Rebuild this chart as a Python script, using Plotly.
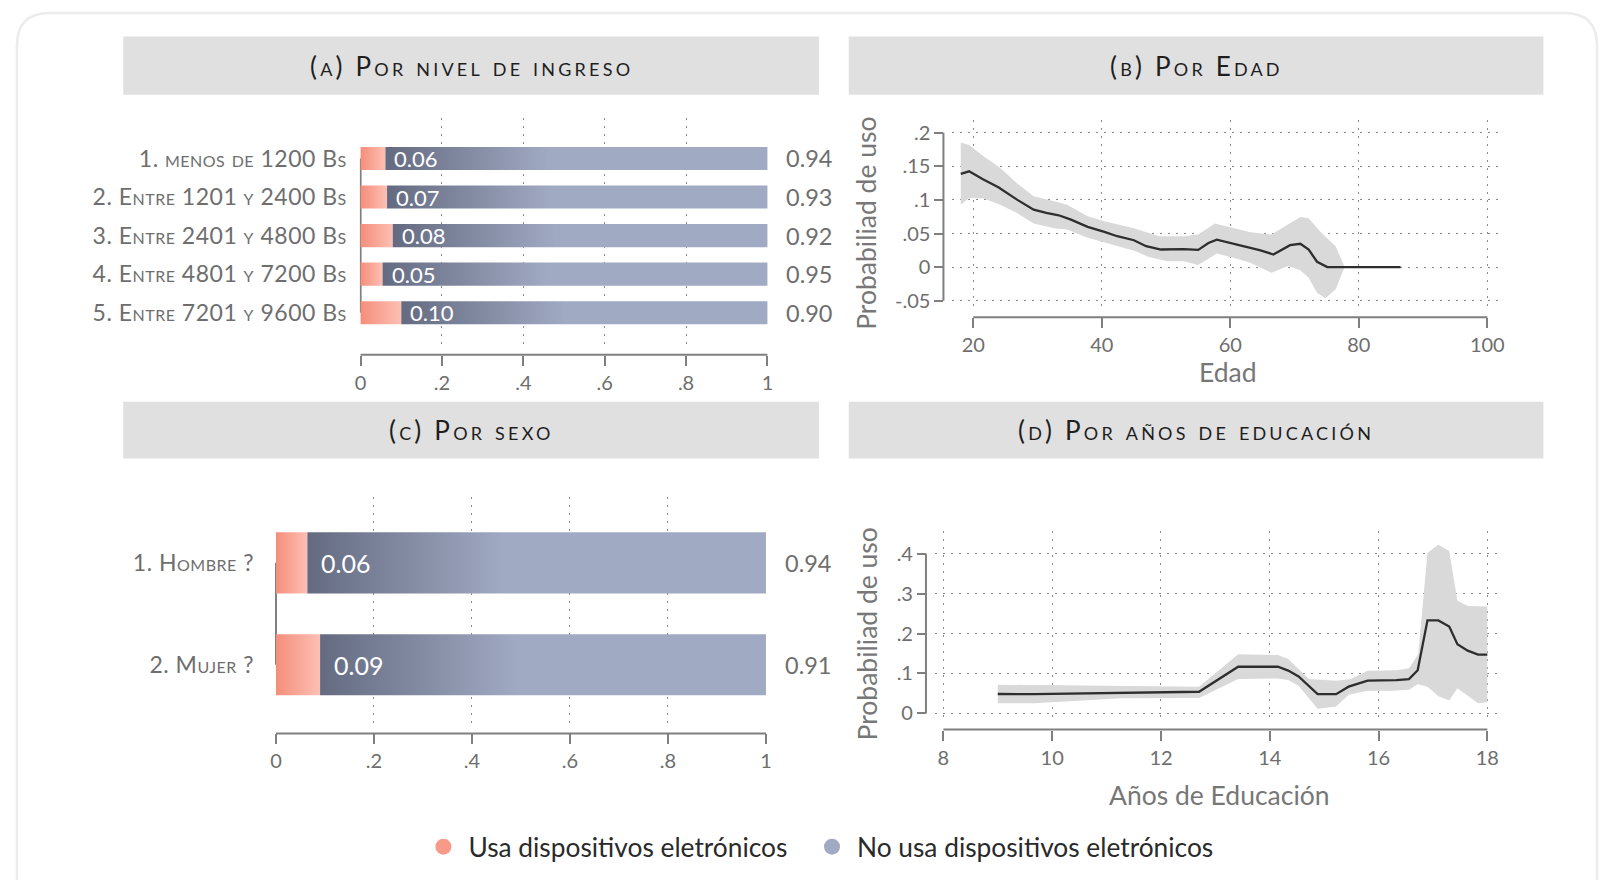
import plotly.graph_objects as go

# (A) por nivel de ingreso
ingreso_cats = ["1. menos de 1200 Bs", "2. Entre 1201 y 2400 Bs", "3. Entre 2401 y 4800 Bs",
                "4. Entre 4801 y 7200 Bs", "5. Entre 7201 y 9600 Bs"]
ingreso_usa = [0.061, 0.065, 0.079, 0.054, 0.100]
ingreso_no = [0.94, 0.93, 0.92, 0.95, 0.90]

# (C) por sexo
sexo_cats = ["1. Hombre ?", "2. Mujer ?"]
sexo_usa = [0.064, 0.090]
sexo_no = [0.94, 0.91]

# (B) por edad: probabilidad estimada e intervalo
edad_x = [18.05, 19.35, 21.5, 23.9, 26.8, 29.4, 31.35, 33.3, 35.2, 37.8, 40.4, 42.4, 45.0, 46.9,
          49.2, 52.75, 55.0, 56.6, 57.9, 60.5, 62.5, 64.7, 66.7, 69.3, 70.9, 72.2, 73.5, 75.1, 86.5]
edad_y = [0.139, 0.1426, 0.131, 0.119, 0.1005, 0.0856, 0.0807, 0.0772, 0.0708, 0.060, 0.0525, 0.046,
          0.040, 0.0312, 0.0262, 0.0267, 0.0257, 0.036, 0.041, 0.035, 0.0297, 0.025, 0.0188, 0.0327,
          0.0347, 0.026, 0.008, 0.0, 0.0]
edad_hi_x = [18.05, 19.35, 21.6, 24.2, 26.8, 29.4, 32.6, 34.6, 37.8, 40.4, 45.0, 48.9, 52.75, 55.0,
             57.6, 60.5, 63.1, 66.4, 70.9, 72.2, 74.1, 76.4, 77.8]
edad_hi_y = [0.1856, 0.182, 0.165, 0.1475, 0.125, 0.1054, 0.098, 0.093, 0.0757, 0.0683, 0.058, 0.046,
             0.046, 0.0485, 0.0648, 0.058, 0.052, 0.0485, 0.0747, 0.0728, 0.052, 0.031, 0.0]
edad_lo_x = [18.05, 19.35, 21.6, 24.2, 26.8, 29.4, 32.6, 34.6, 37.8, 40.4, 43.0, 45.3, 47.2, 50.2,
             52.75, 55.0, 57.9, 60.5, 63.1, 66.4, 69.0, 70.9, 72.2, 73.5, 74.8, 76.4, 77.8]
edad_lo_y = [0.093, 0.103, 0.102, 0.093, 0.0807, 0.065, 0.058, 0.056, 0.0436, 0.036, 0.0297, 0.0238,
             0.0153, 0.0089, 0.0089, 0.003, 0.0203, 0.0139, 0.0064, -0.0084, 0.0015, -0.0045, -0.0158,
             -0.038, -0.0465, -0.033, 0.0]

# (D) por años de educación
edu_x = [9.0, 9.67, 12.7, 13.42, 14.15, 14.34, 14.53, 14.88, 15.22, 15.45, 15.8, 16.33, 16.56, 16.72,
         16.9, 17.1, 17.3, 17.45, 17.64, 17.83, 18.0]
edu_y = [0.0483, 0.048, 0.054, 0.1167, 0.1167, 0.107, 0.0925, 0.048, 0.048, 0.0667, 0.0817, 0.083,
         0.0858, 0.108, 0.233, 0.233, 0.2175, 0.1733, 0.157, 0.147, 0.147]
edu_hi_x = [9.0, 12.7, 13.42, 14.15, 14.34, 14.72, 15.22, 15.49, 15.8, 16.33, 16.56, 16.73, 16.9, 17.1,
            17.3, 17.45, 17.64, 18.0]
edu_hi_y = [0.0717, 0.0667, 0.148, 0.146, 0.136, 0.0858, 0.0817, 0.0858, 0.1067, 0.108, 0.113, 0.148,
            0.4025, 0.423, 0.407, 0.282, 0.269, 0.2675]
edu_lo_x = [9.0, 9.67, 11.28, 12.7, 13.42, 14.15, 14.34, 14.53, 14.88, 15.22, 15.45, 15.8, 16.26, 16.56,
            16.72, 16.9, 17.1, 17.3, 17.45, 17.83, 18.0]
edu_lo_y = [0.025, 0.025, 0.0375, 0.0383, 0.0858, 0.0875, 0.0833, 0.069, 0.011, 0.0167, 0.0467, 0.0567,
            0.0567, 0.059, 0.073, 0.0667, 0.0425, 0.0317, 0.063, 0.025, 0.0275]

prop_ticks = [0, 0.2, 0.4, 0.6, 0.8, 1]
prop_text = ["0", ".2", ".4", ".6", ".8", "1"]
edad_ticks = [20, 40, 60, 80, 100]
edadp_ticks = [-0.05, 0, 0.05, 0.1, 0.15, 0.2]
edadp_text = ["-.05", "0", ".05", ".1", ".15", ".2"]
edu_ticks = [8, 10, 12, 14, 16, 18]
edup_ticks = [0, 0.1, 0.2, 0.3, 0.4]
edup_text = ["0", ".1", ".2", ".3", ".4"]

titles = ["(a) Por nivel de ingreso", "(b) Por Edad", "(c) Por sexo", "(d) Por años de educación"]
legend_names = ["Usa dispositivos eletrónicos", "No usa dispositivos eletrónicos"]

FONT = "Lato"
PINK = ["#F58E7B", "#FDC0B4"]
BLUE = ["#646B81", "#A1AAC3"]
GRIS = "#7F7F7F"
TXT = "#6E6E6E"
W, H = 1613, 880

fig = go.Figure()


def px(x):
    return x / W


def py(y):
    return 1 - y / H


def spaced(t, sp):
    return f'<span style="letter-spacing:{sp}px">{t}</span>'


def add_bars(cats, usa, no, xa, ya, size, shift):
    half = 0.3
    for i, u in enumerate(usa):
        c = i + 1
        ys = [c - half, c - half, c + half, c + half, c - half]
        fig.add_trace(go.Scatter(
            x=[0, u, u, 0, 0], y=ys, xaxis=xa, yaxis=ya, mode="lines",
            line=dict(width=0, color="rgba(0,0,0,0)"), fill="toself",
            fillgradient=dict(type="horizontal", colorscale=[[0, PINK[0]], [1, PINK[1]]], start=0, stop=u),
            showlegend=False, hoverinfo="skip"))
        fig.add_trace(go.Scatter(
            x=[u, 1, 1, u, u], y=ys, xaxis=xa, yaxis=ya, mode="lines",
            line=dict(width=0, color="rgba(0,0,0,0)"), fill="toself",
            fillgradient=dict(type="horizontal", colorscale=[[0, BLUE[0]], [1, BLUE[1]]], start=u, stop=u + 0.4),
            showlegend=False, hoverinfo="skip"))
        fig.add_annotation(x=u, y=c, xref=xa, yref=ya, text=f"{u:.2f}", showarrow=False,
                           xanchor="left", yanchor="middle", xshift=shift,
                           font=dict(family=FONT, size=size, color="white"))
        fig.add_annotation(x=1, y=c, xref=xa, yref=ya, text=f"{no[i]:.2f}", showarrow=False,
                           xanchor="left", yanchor="middle", xshift=17,
                           font=dict(family=FONT, size=23.5, color=TXT))
    # eje vertical entre la primera y la última categoría
    fig.add_shape(type="line", xref=xa, yref=ya, x0=0, x1=0, y0=1, y1=len(usa),
                  line=dict(color=GRIS, width=2), layer="below")


def add_curve(xs, ys, hx, hy, lx, ly, xa, ya):
    fig.add_trace(go.Scatter(
        x=hx + lx[::-1], y=hy + ly[::-1], xaxis=xa, yaxis=ya, mode="lines", fill="toself",
        fillcolor="#D9D9D9", line=dict(width=0, color="rgba(0,0,0,0)"), showlegend=False, hoverinfo="skip"))
    fig.add_trace(go.Scatter(x=xs, y=ys, xaxis=xa, yaxis=ya, mode="lines",
                             line=dict(color="#2E2E2E", width=2.3), showlegend=False))


add_bars(ingreso_cats, ingreso_usa, ingreso_no, "x", "y", 22, 7)
add_curve(edad_x, edad_y, edad_hi_x, edad_hi_y, edad_lo_x, edad_lo_y, "x2", "y2")
add_bars(sexo_cats, sexo_usa, sexo_no, "x3", "y3", 25, 12)
add_curve(edu_x, edu_y, edu_hi_x, edu_hi_y, edu_lo_x, edu_lo_y, "x4", "y4")

legend_colors = ["#F89A89", "#A1AAC3"]
for name, col, lg in zip(legend_names, legend_colors, ["legend", "legend2"]):
    fig.add_trace(go.Scatter(x=[None], y=[None], mode="markers", name=name, legend=lg,
                             marker=dict(size=16, color=col, symbol="circle")))

tickfont = dict(family=FONT, size=20, color=TXT)
grid = dict(showgrid=True, gridcolor="#8A8A8A", gridwidth=1.3, griddash="2px,6px", zeroline=False,
            showline=False)
xtick = dict(ticks="outside", ticklen=10, tickwidth=2, tickcolor=GRIS, tickfont=tickfont)
ytick = dict(ticks="outside", ticklen=9, tickwidth=2, tickcolor=GRIS, tickfont=tickfont)
catfont = dict(family=FONT, size=23, color=TXT, variant="small-caps")
legfont = dict(family=FONT, size=26.3, color="#2A2A2A")

# posiciones de las cuatro gráficas (en píxeles del lienzo)
xA, yA, posA = [357, 768], [118.4, 348.6], 356
xB, yB, posBx, posBy = [953, 1504.5], [120, 310], 318.3, 944.3
xC, yC, posC = [271.7, 766.7], [498.3, 728.3], 736
xD, yD, posDx, posDy = [935.5, 1503.6], [533.3, 723.3], 732, 926.7

fig.update_layout(
    width=W, height=H, margin=dict(l=0, r=0, t=0, b=0),
    paper_bgcolor="white", plot_bgcolor="white",
    font=dict(family=FONT, color=TXT),
    xaxis=dict(domain=[px(xA[0]), px(xA[1])], range=[-0.002, 1.002], anchor="free", position=py(posA),
               tickvals=prop_ticks, ticktext=prop_text, **grid, **xtick),
    yaxis=dict(domain=[py(yA[1]), py(yA[0])], range=[5.9, -0.05], anchor="x",
               tickvals=list(range(1, len(ingreso_cats) + 1)),
               ticktext=[spaced(c, 0.5) for c in ingreso_cats],
               showgrid=False, zeroline=False, showline=False, ticks="", tickfont=catfont,
               ticklabelstandoff=12),
    xaxis2=dict(domain=[px(xB[0]), px(xB[1])], range=[16.7, 102], anchor="free", position=py(posBx),
                tickvals=edad_ticks, **grid, **xtick),
    yaxis2=dict(domain=[py(yB[1]), py(yB[0])], range=[-0.0623, 0.2197], anchor="free", position=px(posBy),
                tickvals=edadp_ticks, ticktext=edadp_text, **grid, **ytick),
    xaxis3=dict(domain=[px(xC[0]), px(xC[1])], range=[-0.002, 1.002], anchor="free", position=py(posC),
                tickvals=prop_ticks, ticktext=prop_text, **grid, **xtick),
    yaxis3=dict(domain=[py(yC[1]), py(yC[0])], range=[2.6, 0.35], anchor="x3",
                tickvals=list(range(1, len(sexo_cats) + 1)),
                ticktext=[spaced(c, 0.5) for c in sexo_cats],
                showgrid=False, zeroline=False, showline=False, ticks="", tickfont=catfont,
                ticklabelstandoff=20),
    xaxis4=dict(domain=[px(xD[0]), px(xD[1])], range=[7.84, 18.22], anchor="free", position=py(posDx),
                tickvals=edu_ticks, **grid, **xtick),
    yaxis4=dict(domain=[py(yD[1]), py(yD[0])], range=[-0.019, 0.456], anchor="free", position=px(posDy),
                tickvals=edup_ticks, ticktext=edup_text, **grid, **ytick),
    legend=dict(orientation="h", x=px(416), xanchor="left", y=py(850), yanchor="middle",
                font=legfont, itemwidth=40, bgcolor="rgba(0,0,0,0)"),
    legend2=dict(orientation="h", x=px(807), xanchor="left", y=py(850), yanchor="middle",
                 font=legfont, itemwidth=40, bgcolor="rgba(0,0,0,0)"),
)

# líneas de eje entre el primer y el último tick
axis_line = dict(color=GRIS, width=2)
fig.add_shape(type="line", xref="x2", yref="paper", x0=edad_ticks[0], x1=edad_ticks[-1],
              y0=py(posBx), y1=py(posBx), line=axis_line)
fig.add_shape(type="line", xref="paper", yref="y2", x0=px(posBy), x1=px(posBy),
              y0=edadp_ticks[0], y1=edadp_ticks[-1], line=axis_line)
fig.add_shape(type="line", xref="x4", yref="paper", x0=edu_ticks[0], x1=edu_ticks[-1],
              y0=py(posDx), y1=py(posDx), line=axis_line)
fig.add_shape(type="line", xref="paper", yref="y4", x0=px(posDy), x1=px(posDy),
              y0=edup_ticks[0], y1=edup_ticks[-1], line=axis_line)
fig.add_shape(type="line", xref="x", yref="paper", x0=prop_ticks[0], x1=prop_ticks[-1],
              y0=py(posA), y1=py(posA), line=axis_line)
fig.add_shape(type="line", xref="x3", yref="paper", x0=prop_ticks[0], x1=prop_ticks[-1],
              y0=py(posC), y1=py(posC), line=axis_line)

# marco exterior redondeado
r = 33
L, T, R, B = 12, 13, 1602, 900
path = (f"M {px(L)},{py(B)} L {px(L)},{py(T + r)} Q {px(L)},{py(T)} {px(L + r)},{py(T)} "
        f"L {px(R - r)},{py(T)} Q {px(R)},{py(T)} {px(R)},{py(T + r)} L {px(R)},{py(B)}")
fig.add_shape(type="path", xref="paper", yref="paper", path=path,
              line=dict(color="#ECECEC", width=2.5), layer="below")

# franjas de título
strips = [(119, 819, 36.7, 95), (849, 1548, 36.7, 95), (119, 819, 403, 460), (849, 1548, 403, 460)]
for (x0, x1, y0, y1), t in zip(strips, titles):
    fig.add_shape(type="rect", xref="paper", yref="paper", x0=px(x0), x1=px(x1), y0=py(y1), y1=py(y0),
                  fillcolor="#E0E0E0", line=dict(width=0), layer="below")
    fig.add_annotation(x=px((x0 + x1) / 2), y=py((y0 + y1) / 2), xref="paper", yref="paper",
                       text=spaced(t, 3.2), showarrow=False, xanchor="center", yanchor="middle",
                       font=dict(family=FONT, size=26, color="#1E1E1E", variant="small-caps"))

# títulos de ejes
axt = dict(family=FONT, size=26.5, color="#777777")
for yc in (224, 636):
    fig.add_annotation(x=px(867), y=py(yc), xref="paper", yref="paper", text="Probabiliad de uso",
                       textangle=-90, showarrow=False, xanchor="center", yanchor="middle", font=axt)
fig.add_annotation(x=px(1231), y=py(373), xref="paper", yref="paper", text="Edad", showarrow=False,
                   xanchor="center", yanchor="middle", font=axt)
fig.add_annotation(x=px(1222), y=py(798), xref="paper", yref="paper", text="Años de Educación",
                   showarrow=False, xanchor="center", yanchor="middle", font=axt)

fig.write_html("out.html", config={"displayModeBar": False},
               post_script="document.body.style.margin = '0px';")
